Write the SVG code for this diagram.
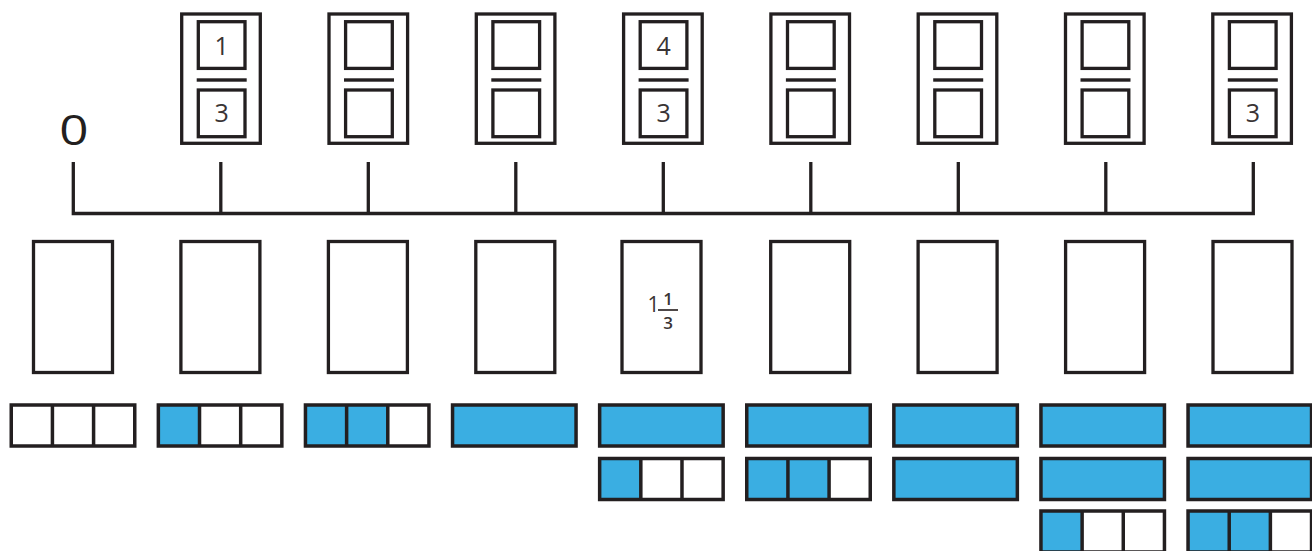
<svg xmlns="http://www.w3.org/2000/svg" width="1312" height="551" viewBox="0 0 1312 551">
<style>
.ln{fill:none;stroke:#231f20;stroke-width:3.3}
.bx{fill:#fff;stroke:#231f20;stroke-width:3.3}
.bar{fill:none;stroke:#231f20;stroke-width:3.5}
.bl{fill:#3aaee2}
.num{font-family:"Open Sans","DejaVu Sans",sans-serif;font-size:25px;fill:#3a3434;text-anchor:middle}
.mix{font-family:"Open Sans","DejaVu Sans",sans-serif;fill:#3a3434;text-anchor:middle}
</style>
<defs>
<g id="fbox">
<rect class="ln" x="-39.3" y="14" width="78.6" height="129.3"/>
<rect class="ln" x="-22.7" y="21.7" width="46.7" height="46.7"/>
<rect x="-24.3" y="78.3" width="50" height="3.4" fill="#231f20"/>
<rect class="ln" x="-22.7" y="90" width="46.7" height="46.7"/>
</g>
<g id="third">
<rect class="bar" x="-61.75" y="0" width="123.5" height="41"/>
<line class="bar" x1="-20.58" y1="0" x2="-20.58" y2="41"/>
<line class="bar" x1="20.58" y1="0" x2="20.58" y2="41"/>
</g>
<rect id="full" class="bar" style="fill:#3aaee2" x="-61.75" y="0" width="123.5" height="41"/>
<rect id="b1" class="bl" x="-61.75" y="0" width="41.17" height="41"/>
<rect id="b2" class="bl" x="-61.75" y="0" width="82.33" height="41"/>
<rect id="mbox" class="bx" x="-39.5" y="241.5" width="79" height="131"/>
</defs>

<g id="zero-label">
<text transform="translate(74,145) scale(1.22,1)" font-family="'Open Sans','DejaVu Sans',sans-serif" font-size="42" fill="#231f20" text-anchor="middle">0</text>
</g>

<g id="top-boxes">
<g id="f1" transform="translate(221,0)"><use href="#fbox"/><text class="num" x="0.7" y="55">1</text><text class="num" x="0.7" y="121.5">3</text></g>
<g id="f2" transform="translate(368.3,0)"><use href="#fbox"/></g>
<g id="f3" transform="translate(515.6,0)"><use href="#fbox"/></g>
<g id="f4" transform="translate(662.9,0)"><use href="#fbox"/><text class="num" x="0.7" y="55">4</text><text class="num" x="0.7" y="121.5">3</text></g>
<g id="f5" transform="translate(810.2,0)"><use href="#fbox"/></g>
<g id="f6" transform="translate(957.5,0)"><use href="#fbox"/></g>
<g id="f7" transform="translate(1104.8,0)"><use href="#fbox"/></g>
<g id="f8" transform="translate(1252.1,0)"><use href="#fbox"/><text class="num" x="0.7" y="121.5">3</text></g>
</g>

<g id="connectors">
<path class="ln" d="M73.3,162 V213.5 H1253.3 V162"/>
<line class="ln" x1="220.8" y1="162" x2="220.8" y2="213.5"/>
<line class="ln" x1="368.3" y1="162" x2="368.3" y2="213.5"/>
<line class="ln" x1="515.8" y1="162" x2="515.8" y2="213.5"/>
<line class="ln" x1="663.3" y1="162" x2="663.3" y2="213.5"/>
<line class="ln" x1="810.8" y1="162" x2="810.8" y2="213.5"/>
<line class="ln" x1="958.3" y1="162" x2="958.3" y2="213.5"/>
<line class="ln" x1="1105.8" y1="162" x2="1105.8" y2="213.5"/>
</g>

<g id="mid-boxes">
<g id="m0" transform="translate(73,0)"><use href="#mbox"/></g>
<g id="m1" transform="translate(220.4,0)"><use href="#mbox"/></g>
<g id="m2" transform="translate(367.9,0)"><use href="#mbox"/></g>
<g id="m3" transform="translate(515.3,0)"><use href="#mbox"/></g>
<g id="m4" transform="translate(661.5,0)"><use href="#mbox"/>
<text class="mix" x="-8" y="312" font-size="21">1</text>
<text class="mix" x="6.5" y="305" font-size="17" font-weight="600">1</text>
<line x1="-3.5" y1="310" x2="16.5" y2="310" stroke="#3a3434" stroke-width="1.8"/>
<text class="mix" x="6.5" y="329" font-size="17" font-weight="600">3</text>
</g>
<g id="m5" transform="translate(810.2,0)"><use href="#mbox"/></g>
<g id="m6" transform="translate(957.6,0)"><use href="#mbox"/></g>
<g id="m7" transform="translate(1105.1,0)"><use href="#mbox"/></g>
<g id="m8" transform="translate(1252.5,0)"><use href="#mbox"/></g>
</g>

<g id="bars">
<g id="bar0" transform="translate(73,405)"><use href="#third"/></g>
<g id="bar1" transform="translate(220.1,405)"><use href="#b1"/><use href="#third"/></g>
<g id="bar2" transform="translate(367.2,405)"><use href="#b2"/><use href="#third"/></g>
<g id="bar3" transform="translate(514.3,405)"><use href="#full"/></g>
<g id="bar4">
<g transform="translate(661.4,405)"><use href="#full"/></g>
<g transform="translate(661.4,458.5)"><use href="#b1"/><use href="#third"/></g>
</g>
<g id="bar5">
<g transform="translate(808.5,405)"><use href="#full"/></g>
<g transform="translate(808.5,458.5)"><use href="#b2"/><use href="#third"/></g>
</g>
<g id="bar6">
<g transform="translate(955.6,405)"><use href="#full"/></g>
<g transform="translate(955.6,458.5)"><use href="#full"/></g>
</g>
<g id="bar7">
<g transform="translate(1102.7,405)"><use href="#full"/></g>
<g transform="translate(1102.7,458.5)"><use href="#full"/></g>
<g transform="translate(1102.7,511)"><use href="#b1"/><use href="#third"/></g>
</g>
<g id="bar8">
<g transform="translate(1249.8,405)"><use href="#full"/></g>
<g transform="translate(1249.8,458.5)"><use href="#full"/></g>
<g transform="translate(1249.8,511)"><use href="#b2"/><use href="#third"/></g>
</g>
</g>
</svg>
